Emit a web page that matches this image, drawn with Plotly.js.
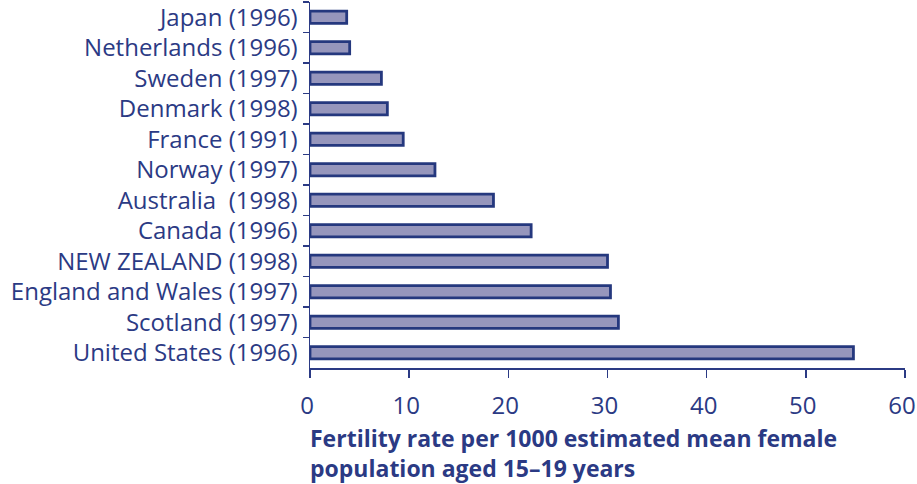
<!DOCTYPE html>
<html>
<head>
<meta charset="utf-8">
<script src="https://cdn.plot.ly/plotly-3.0.1.min.js"></script>
<style>html,body{margin:0;padding:0;background:#fff;}#chart{width:917px;height:484px;}</style>
</head>
<body>
<div id="chart"></div>
<script>
const countries = [
  "Japan (1996)", "Netherlands (1996)", "Sweden (1997)", "Denmark (1998)",
  "France (1991)", "Norway (1997)", "Australia  (1998)", "Canada (1996)",
  "NEW ZEALAND (1998)", "England and Wales (1997)", "Scotland (1997)", "United States (1996)"
];
const rates = [3.7, 4.0, 7.2, 7.8, 9.4, 12.6, 18.5, 22.3, 30.0, 30.3, 31.1, 54.8];
const xTicks = [0, 10, 20, 30, 40, 50, 60];
const xTitleLines = ["Fertility rate per 1000 estimated mean female", "population aged 15–19 years"];

const navy = "#2b3a84";
const font = "Open Sans, sans-serif";

Plotly.newPlot("chart", [{
  type: "bar",
  orientation: "h",
  y: countries,
  x: rates,
  width: 0.4,
  marker: { color: "#9696bc", line: { color: "#25387e", width: 2.8 } },
  hoverinfo: "x+y"
}], {
  width: 917, height: 484,
  margin: { l: 310, r: 12, t: 2, b: 116 },
  paper_bgcolor: "#fff", plot_bgcolor: "#fff",
  showlegend: false,
  font: { family: font, color: navy },
  xaxis: {
    range: [0, 60], tickvals: xTicks, ticktext: xTicks.map(String),
    showgrid: false, zeroline: false,
    showline: true, linecolor: navy, linewidth: 1.5,
    ticks: "outside", ticklen: 8, tickcolor: navy, tickwidth: 1.5,
    ticklabelstandoff: 8, ticklabelshift: -3, ticklabeloverflow: "allow",
    tickfont: { family: font, size: 24, color: navy }
  },
  yaxis: {
    type: "category", autorange: "reversed",
    showgrid: false, zeroline: false,
    showline: true, linecolor: navy, linewidth: 1.5,
    ticks: "outside", tickson: "boundaries", ticklen: 6, tickcolor: navy, tickwidth: 1.5,
    ticklabelstandoff: 6,
    tickfont: { family: font, size: 24, color: navy }
  },
  annotations: xTitleLines.map((t, i) => ({
    text: "<b>" + t + "</b>",
    xref: "paper", yref: "paper", x: -0.003, y: i === 0 ? -0.192 : -0.274,
    xanchor: "left", yanchor: "middle", align: "left", showarrow: false,
    font: { family: font, size: 23, color: navy }
  }))
}, { displayModeBar: false, staticPlot: true });
</script>
</body>
</html>
